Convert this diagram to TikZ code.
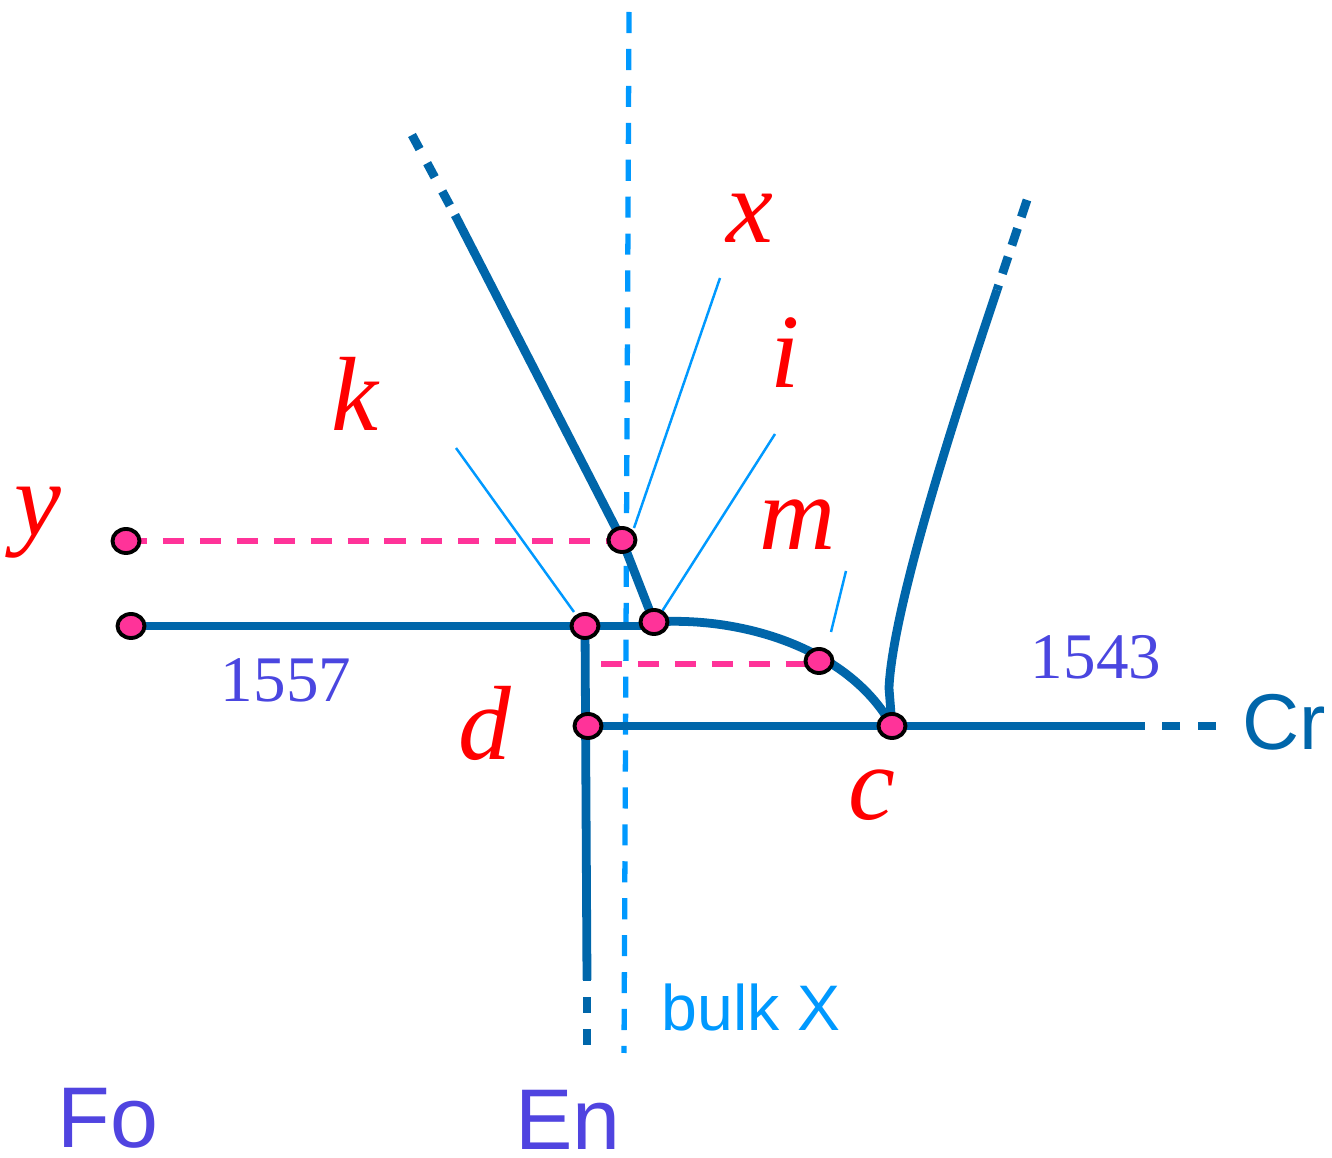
\documentclass[tikz,border=0pt]{standalone}
\usepackage{fontspec}
\setmainfont{Liberation Serif}
\newfontfamily\arialf{Liberation Sans}
\usetikzlibrary{shapes.geometric}
\definecolor{lineblue}{HTML}{0066AA}
\definecolor{lightblue}{HTML}{0099FF}
\definecolor{dotpink}{HTML}{FF3399}
\definecolor{lblred}{HTML}{FF0000}
\definecolor{numpurple}{HTML}{4A46E0}
\definecolor{phasepurple}{HTML}{5044E0}
\pgfdeclarelayer{bg}
\pgfsetlayers{bg,main}
\begin{document}
\begin{tikzpicture}[x=0.01cm,y=-0.01cm,
  thickline/.style={lineblue,line width=2.5pt},
  extdash/.style={lineblue,line width=2.5pt,dash pattern=on 4.55pt off 4.55pt},
  crdash/.style={lineblue,line width=2.5pt,dash pattern=on 5.1pt off 5.1pt},
  topdash/.style={lineblue,line width=2.5pt,dash pattern=on 5.1pt off 3.4pt},
  bulkline/.style={lightblue,line width=1.5pt,dash pattern=on 6pt off 4.5pt},
  pinkdash/.style={dotpink,line width=1.7pt,dash pattern=on 6pt off 4.5pt},
  leader/.style={lightblue,line width=0.7pt},
  dot/.style={ellipse,draw=black,line width=1.1pt,fill=dotpink,minimum width=0.27cm,minimum height=0.24cm,inner sep=0pt},
  redlbl/.style={anchor=base,text=lblred,font=\fontsize{30}{36}\selectfont\itshape,inner sep=0pt},
  numlbl/.style={anchor=base,text=numpurple,font=\fontsize{18.5}{22}\selectfont,inner sep=0pt},
  phaselbl/.style={anchor=base,text=phasepurple,font=\arialf\fontsize{24.5}{29}\selectfont,inner sep=0pt,text depth=0pt}
]
\useasboundingbox (0,0) rectangle (1332,1158);

% points
\node[dot] (Py) at (126,541) {};
\node[dot] (Px) at (622,540) {};
\node[dot] (Pl) at (131,626) {};
\node[dot] (Pk) at (585,626) {};
\node[dot] (Pi) at (654,622) {};
\node[dot] (Pm) at (819,661) {};
\node[dot] (Pd) at (588,726) {};
\node[dot] (Pc) at (892,726) {};

% free ends
\coordinate (Vend) at (587,980);
\coordinate (Vtip) at (587,1045);
\coordinate (Hend) at (1145,726);
\coordinate (Htip) at (1216,726);
\coordinate (Dend) at (455,215);
\coordinate (Dtip) at (412,135);
\coordinate (Rbase) at (889,688);
\coordinate (Rend) at (997,290);
\coordinate (Rtip) at (1027,200);
\coordinate (Ms) at (601,664);
\coordinate (BXt) at (629,12);
\coordinate (BXb) at (624,1053);
\coordinate (Lx1) at (720,278);
\coordinate (Lx2) at (634,528);
\coordinate (Li1) at (775,434);
\coordinate (Li2) at (661,613);
\coordinate (Lk1) at (456,448);
\coordinate (Lk2) at (574,612);
\coordinate (Lm1) at (846,571);
\coordinate (Lm2) at (831,632);

\begin{pgfonlayer}{bg}
  % bulk X line
  \draw[bulkline] (BXt) -- (BXb);
  % pink dashed
  \draw[pinkdash] (Py.center) -- (Py.center -| Px.center);
  \draw[pinkdash] (Ms) -- (Ms -| Pm.center);
  % main lines
  \draw[thickline] (Pl.center) -- (Pl.center -| Pi.center);
  \draw[thickline] (Pk.center) -- (Vend);
  \draw[extdash] (Vtip) -- (Vend);
  \draw[thickline] (Pd.center) -- (Hend);
  \draw[crdash] (Htip) -- (Hend);
  \draw[thickline,line join=round] (Pi.center) -- (Px.center) -- (Dend);
  \draw[extdash] (Dtip) -- (Dend);
  \draw[thickline] (Pi.center) .. controls (745,616) and (850,650) .. (Pc.center);
  \draw[thickline,line join=round] (Pc.center) -- (Rbase) .. controls (893,600) and (967,380) .. (Rend);
  \draw[topdash] (Rtip) -- (Rend);
  % leaders
  \draw[leader] (Lx1) -- (Lx2);
  \draw[leader] (Li1) -- (Li2);
  \draw[leader] (Lk1) -- (Lk2);
  \draw[leader] (Lm1) -- (Lm2);
\end{pgfonlayer}

% labels
\node[redlbl] (tx) at (750,243) {x};
\node[redlbl] (ti) at (785,388) {i};
\node[redlbl] (tk) at (355,431) {k};
\node[redlbl] (ty) at (38,536) {y};
\node[redlbl] (tm) at (798,550) {m};
\node[redlbl] (td) at (485,760) {d};
\node[redlbl] (tc) at (872,820) {c};
\node[numlbl] (t1557) at (286,702) {1557};
\node[numlbl] (t1543) at (1096,679) {1543};
\node[anchor=base,text=lineblue,font=\arialf\fontsize{22.5}{27}\selectfont,inner sep=0pt] (tCr) at (1284,750) {Cr};
\node[anchor=base,text=lightblue,font=\arialf\fontsize{18.3}{22}\selectfont,inner sep=0pt] (tbulk) at (751,1031) {bulk X};
\node[phaselbl] (tFo) at (108,1148) {Fo};
\node[phaselbl] (tEn) at (568,1150) {En};
\end{tikzpicture}
\end{document}
